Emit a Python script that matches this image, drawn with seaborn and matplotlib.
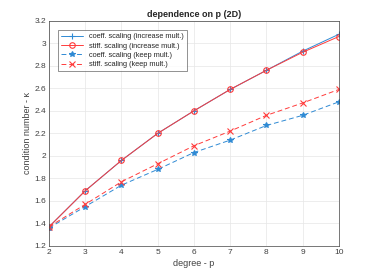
import numpy as np
import pandas as pd
import seaborn as sns
from matplotlib import pyplot as plt

degree = [2, 3, 4, 5, 6, 7, 8, 9, 10]
coeff_increase = [1.37, 1.69, 1.96, 2.20, 2.40, 2.59, 2.76, 2.93, 3.08]
stiff_increase = [1.37, 1.69, 1.96, 2.20, 2.40, 2.59, 2.76, 2.92, 3.06]
coeff_keep = [1.36, 1.55, 1.74, 1.88, 2.03, 2.14, 2.27, 2.36, 2.48]
stiff_keep = [1.37, 1.57, 1.77, 1.93, 2.09, 2.22, 2.36, 2.47, 2.59]

labels = ['coeff. scaling (increase mult.)', 'stiff. scaling (increase mult.)',
          'coeff. scaling (keep mult.)', 'stiff. scaling (keep mult.)']

sns.set_theme(style='whitegrid')
plt.rcParams['font.family'] = ['Liberation Sans', 'DejaVu Sans']

blue = '#2f8ad4'
red = '#ff3b3b'
styles = [(blue, '-', '+'), (red, '-', 'o'), (blue, (0, (5, 3)), '*'), (red, (0, (5, 3)), 'x')]

fig = plt.figure(figsize=(3.74, 2.77), dpi=100)
ax = fig.add_axes([0.131, 0.112, 0.775, 0.813])

for series, label, (col, ls, mk) in zip([coeff_increase, stiff_increase, coeff_keep, stiff_keep], labels, styles):
    df = pd.DataFrame({'p': degree, 'k': series})
    sns.lineplot(data=df, x='p', y='k', ax=ax, color=col, linestyle=ls, marker=mk,
                 markersize=4, linewidth=0.7, label=label,
                 markerfacecolor='none' if mk == 'o' else col,
                 markeredgecolor=col, markeredgewidth=0.8)

ax.set_xlim(2, 10)
ax.set_ylim(1.2, 3.2)
ax.set_xticks(range(2, 11))
ax.set_yticks(np.arange(1.2, 3.21, 0.2))
ax.set_yticklabels(['1.2', '1.4', '1.6', '1.8', '2', '2.2', '2.4', '2.6', '2.8', '3', '3.2'])
ax.tick_params(labelsize=6, colors='#404040', direction='in', length=2, width=0.5, pad=2)
ax.grid(True, color='#e6e6e6', linewidth=0.5)
for s in ax.spines.values():
    s.set_color('#404040')
    s.set_linewidth(0.5)
ax.set_facecolor('white')
ax.set_xlabel('degree - p', fontsize=6.5, color='#404040', labelpad=2)
ax.set_ylabel('condition number - κ', fontsize=6.5, color='#404040', labelpad=2)
ax.set_title('dependence on p (2D)', fontsize=6.5, fontweight='bold', pad=3)

leg = ax.legend(loc='upper left', fontsize=5.3, frameon=True, fancybox=False,
                borderpad=0.4, labelspacing=0.3, handlelength=3.0, bbox_to_anchor=(0.02, 0.975))
leg.get_frame().set_edgecolor('#404040')
leg.get_frame().set_linewidth(0.5)

fig.savefig('out.png', dpi=100)
